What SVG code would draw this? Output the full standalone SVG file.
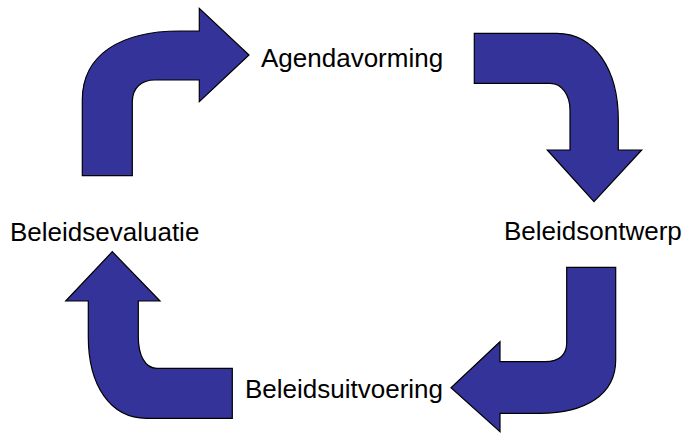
<svg xmlns="http://www.w3.org/2000/svg" width="684" height="435" viewBox="0 0 684 435">
  <style>
    .arrow { fill: #333399; stroke: #000000; stroke-width: 1.2; stroke-linejoin: miter; }
    .label { font-family: "Liberation Sans", Arial, sans-serif; font-size: 26px; fill: #000000; }
  </style>
  <rect width="684" height="435" fill="#ffffff"/>
  <g id="connectors">
    <!-- evaluation to agenda: bend up then right -->
    <path class="arrow" d="M82.3,175.7 L82.3,100 C82.3,55 120,31 180,31 L199.3,31 L199.3,8.3 L249,55 L199.3,101.7 L199.3,80 L155,80 C141,80 132.3,88 132.3,102 L132.3,175.7 Z"/>
    <!-- agenda to design: right then down -->
    <path class="arrow" d="M474.3,33.3 L556.7,33.3 C595,33.3 618.3,70 618.3,120 L618.3,150 L641.7,150 L594,201.7 L547.3,150 L570,150 L570,110 C570,95 562,83.3 550,83.3 L474.3,83.3 Z"/>
    <!-- design to implementation: down then left -->
    <path class="arrow" d="M615.7,267.3 L615.7,360 C615.7,395 585,413.3 540,413.3 L500,413.3 L500,431.7 L451,387.7 L500,341.7 L500,361.7 L545,361.7 C560,361.7 566.7,354 566.7,343 L566.7,267.3 Z"/>
    <!-- implementation to evaluation: left then up -->
    <path class="arrow" d="M232.3,418.3 L146.7,418.3 C110,418.3 88.3,385 88.3,336.7 L88.3,301 L65.7,301 L112.3,251.7 L160,301 L138.3,301 L138.3,336.7 C138.3,355 145,368.3 156.7,368.3 L232.3,368.3 Z"/>
  </g>
  <g id="agendavorming"><text class="label" x="261" y="67">Agendavorming</text></g>
  <g id="beleidsontwerp"><text class="label" x="504" y="240">Beleidsontwerp</text></g>
  <g id="beleidsuitvoering"><text class="label" x="245" y="398">Beleidsuitvoering</text></g>
  <g id="beleidsevaluatie"><text class="label" x="10" y="241">Beleidsevaluatie</text></g>
</svg>
